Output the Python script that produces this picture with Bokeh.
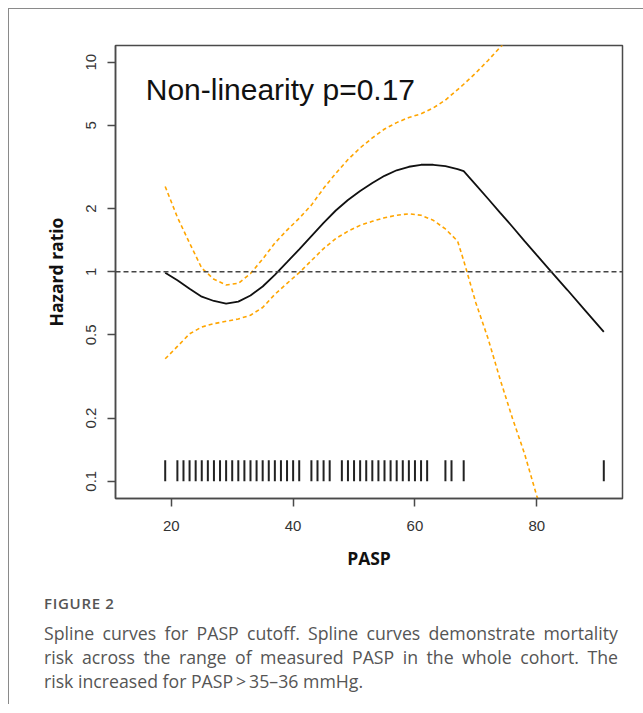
from bokeh.plotting import figure
from bokeh.models import Range1d, FixedTicker, CustomJSTickFormatter, Span, Label, Div
from bokeh.layouts import column
from bokeh.embed import file_html
from bokeh.resources import INLINE

# ---- data ----
pasp = [19, 21, 23, 25, 27, 29, 31, 33, 35, 37, 39, 41, 43, 45, 47, 49, 51, 53, 55, 57,
        59, 61, 63, 65, 67, 68, 70, 72, 74, 76, 78, 80, 82, 85, 88, 91]
hr = [0.99, 0.91, 0.83, 0.76, 0.725, 0.705, 0.72, 0.77, 0.85, 0.965, 1.11, 1.28, 1.48, 1.71,
      1.96, 2.2, 2.43, 2.65, 2.87, 3.05, 3.17, 3.24, 3.24, 3.19, 3.09, 3.02, 2.60, 2.23, 1.91,
      1.64, 1.40, 1.20, 1.03, 0.82, 0.65, 0.516]

ci_x_upper = [19, 21, 23, 25, 27, 29, 31, 33, 35, 37, 39, 41, 43, 45, 47, 49, 51, 53, 55, 57,
              59, 61, 63, 65, 67, 68, 70, 72, 74, 76]
ci_upper = [2.55, 1.82, 1.37, 1.04, 0.92, 0.865, 0.88, 0.98, 1.15, 1.37, 1.58, 1.80, 2.08, 2.5,
            2.95, 3.43, 3.90, 4.35, 4.80, 5.15, 5.45, 5.67, 6.05, 6.6, 7.4, 7.85, 8.9, 10.2, 11.8, 13.6]

ci_x_lower = [19, 21, 23, 25, 27, 29, 31, 33, 35, 37, 39, 41, 43, 45, 47, 49, 51, 53, 55, 57,
              59, 61, 63, 65, 67, 68, 70, 72, 74, 76, 78, 80, 82]
ci_lower = [0.384, 0.44, 0.505, 0.545, 0.565, 0.58, 0.595, 0.62, 0.675, 0.78, 0.88, 0.99, 1.13,
            1.29, 1.44, 1.56, 1.665, 1.74, 1.81, 1.86, 1.89, 1.86, 1.76, 1.60, 1.40, 1.13, 0.71,
            0.48, 0.305, 0.20, 0.135, 0.085, 0.058]

rug_x = [19, 21, 22, 23, 24, 25, 26, 27, 28, 29, 30, 31, 32, 33, 34, 35, 36, 37, 38, 39, 40, 41,
         43, 44, 45, 46, 48, 49, 50, 51, 52, 53, 54, 55, 56, 57, 58, 59, 60, 61, 62, 65, 66, 68, 91]
rug_bottom, rug_top = 0.1, 0.126

x_ticks = [20, 40, 60, 80]
y_ticks = [0.1, 0.2, 0.5, 1, 2, 5, 10]

title_text = "Non-linearity p=0.17"
x_label = "PASP"
y_label = "Hazard ratio"
fig_label = "FIGURE 2"
caption_lines = [
    "Spline curves for PASP cutoff. Spline curves demonstrate mortality",
    "risk across the range of measured PASP in the whole cohort. The",
    "risk increased for PASP\u2009>\u200935\u201336 mmHg.",
]

# ---- figure ----
p = figure(width=633, height=575, output_backend="svg", toolbar_location=None,
           y_axis_type="log",
           x_range=Range1d(10.84, 94.07), y_range=Range1d(0.0827, 12.02),
           min_border_left=106, min_border_right=20, min_border_top=36, min_border_bottom=86,
           background_fill_color="white", border_fill_color="white")
p.xgrid.visible = False
p.ygrid.visible = False
p.outline_line_color = "#4a4a4a"
p.outline_line_width = 1.5

tick_font = "Liberation Sans"
for ax in (p.xaxis[0], p.yaxis[0]):
    ax.axis_line_color = "#4a4a4a"
    ax.axis_line_width = 1.5
    ax.major_tick_line_color = "#4a4a4a"
    ax.major_tick_line_width = 1.5
    ax.major_tick_in = 0
    ax.major_tick_out = 8
    ax.minor_tick_line_color = None
    ax.major_label_text_font = tick_font
    ax.major_label_text_font_size = "15px"
    ax.major_label_text_color = "#333333"
    ax.axis_label_text_font = "Open Sans"
    ax.axis_label_text_font_style = "bold"
    ax.axis_label_text_font_size = "17.5px"
    ax.axis_label_text_color = "#111111"

p.xaxis.ticker = FixedTicker(ticks=x_ticks)
p.xaxis.major_label_standoff = 14
p.xaxis.axis_label = x_label
p.xaxis.axis_label_standoff = 12

p.yaxis.ticker = FixedTicker(ticks=y_ticks)
p.yaxis.formatter = CustomJSTickFormatter(code="return String(tick);")
p.yaxis.major_label_orientation = "vertical"
p.yaxis.major_label_standoff = 11
p.yaxis.axis_label = y_label
p.yaxis.axis_label_standoff = 16

p.add_layout(Span(location=1, dimension="width", line_color="#444444",
                  line_width=1.3, line_dash="5 3"))

p.segment(x0=rug_x, y0=[rug_bottom] * len(rug_x), x1=rug_x, y1=[rug_top] * len(rug_x),
          line_color="#222222", line_width=2)

p.line(ci_x_upper, ci_upper, line_color="#FFA500", line_width=1.6, line_dash="4 3")
p.line(ci_x_lower, ci_lower, line_color="#FFA500", line_width=1.6, line_dash="4 3")
p.line(pasp, hr, line_color="#111111", line_width=1.8)

p.add_layout(Label(x=15.8, y=7.41, text=title_text, text_font=tick_font,
                   text_font_size="30px", text_color="#111111", text_baseline="alphabetic"))

# ---- caption ----
line_css = "font-size:17.7px;line-height:24px;white-space:nowrap;"


def justified(line):
    words = "".join(f"<span>{w}</span>" for w in line.split(" "))
    return (f'<div style="{line_css}display:flex;justify-content:space-between;'
            f'width:574px;">{words}</div>')


html = (
    '<div style="font-family:\'Open Sans\';color:#555555;padding-left:30px;width:580px;">'
    f'<div style="font-size:15px;font-weight:600;letter-spacing:0.7px;line-height:20px;margin-top:4px;">{fig_label}</div>'
    f'<div style="margin-top:8px;">{justified(caption_lines[0])}</div>'
    f'{justified(caption_lines[1])}'
    f'<div style="{line_css}">{caption_lines[2]}</div>'
    '</div>'
)
cap = Div(text=html, width=633, height=110)

layout = column(p, cap, styles={"border-left": "1px solid #8a8a8a",
                                "border-top": "1px solid #8a8a8a",
                                "margin-left": "8px", "margin-top": "8px"})

open("out.html", "w").write(file_html(layout, INLINE))
